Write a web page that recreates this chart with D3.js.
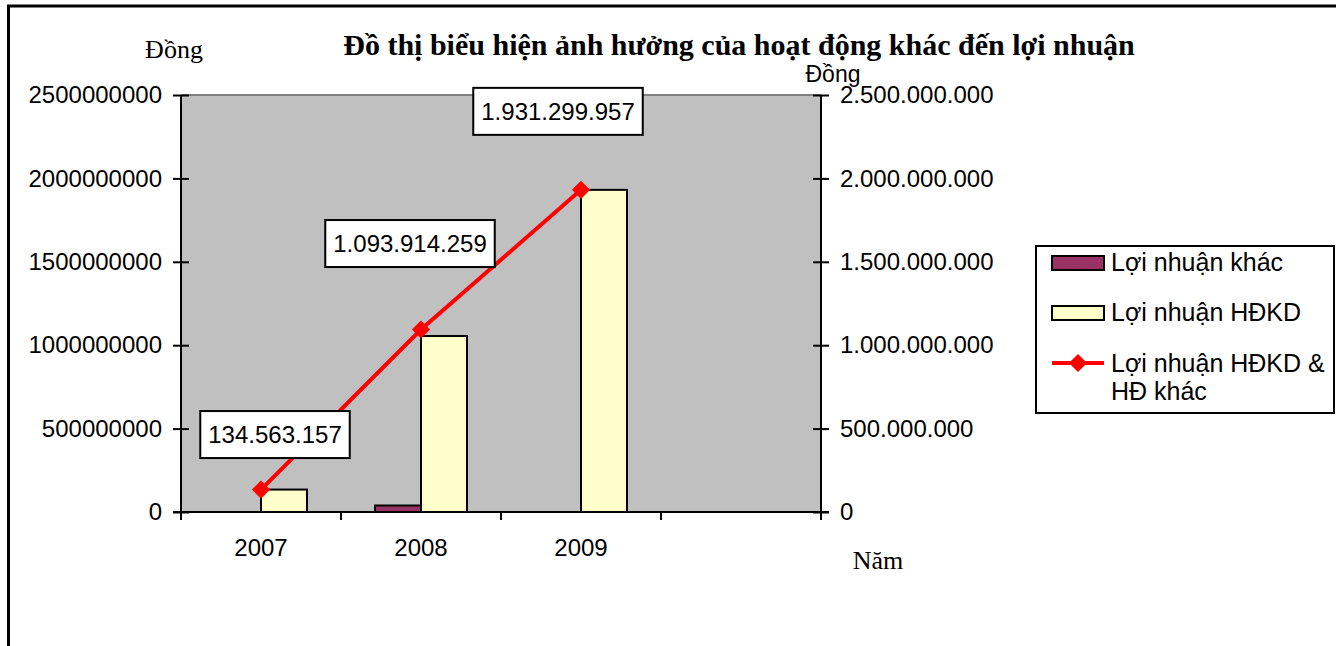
<!DOCTYPE html>
<html>
<head>
<meta charset="utf-8">
<script src="https://cdn.jsdelivr.net/npm/d3@7"></script>
<style>
  html, body { margin: 0; padding: 0; background: #fff; }
  svg { display: block; }
  .serif { font-family: "Times New Roman", "Liberation Serif", serif; }
</style>
</head>
<body>
<svg id="chart" width="1336" height="646"></svg>
<script>
// Years on the category axis (the last slot is left empty)
const years = ["2007", "2008", "2009", ""];
// Profit from other activities (Lợi nhuận khác)
const otherProfit = [0, 38914259, 0];
// Operating profit (Lợi nhuận HĐKD)
const operatingProfit = [134563157, 1055000000, 1931299957];
// Total profit: operating + other activities
const totalProfit = [134563157, 1093914259, 1931299957];
// Value-axis ticks
const valueTicks = [0, 500000000, 1000000000, 1500000000, 2000000000, 2500000000];

const seriesNames = ["Lợi nhuận khác", "Lợi nhuận HĐKD", "Lợi nhuận HĐKD & HĐ khác"];

const svg = d3.select("#chart");
const W = 1336, H = 646;
const plot = { left: 181, right: 821, top: 95, bottom: 512 };
const SANS = "Arial, 'Liberation Sans', sans-serif";

// Outer chart frame
svg.append("rect")
  .attr("x", 8.5).attr("y", 6).attr("width", W + 20).attr("height", H + 20)
  .attr("fill", "#fff").attr("stroke", "#000").attr("stroke-width", 3);

const x = d3.scaleBand().domain(years).range([plot.left, plot.right]).paddingInner(0).paddingOuter(0);
const y = d3.scaleLinear().domain([0, 2500000000]).range([plot.bottom, plot.top]);

const barW = 46;
const xInner = d3.scaleBand().domain([0, 1]).range([-barW, barW]);

// Plot area background
svg.append("rect")
  .attr("x", plot.left).attr("y", plot.top)
  .attr("width", plot.right - plot.left).attr("height", plot.bottom - plot.top)
  .attr("fill", "#c0c0c0");
svg.append("line")
  .attr("x1", plot.left).attr("x2", plot.right)
  .attr("y1", plot.top).attr("y2", plot.top)
  .attr("stroke", "#808080").attr("stroke-width", 2);

const barYears = years.slice(0, 3);

// Bars: other profit (left) and operating profit (right) in each year
const barSeries = [
  { values: otherProfit, fill: "#993366", idx: 0 },
  { values: operatingProfit, fill: "#ffffcc", idx: 1 }
];
barSeries.forEach(s => {
  svg.append("g").selectAll("rect")
    .data(barYears.map((yr, i) => ({ yr, v: s.values[i] })).filter(d => d.v > 0))
    .join("rect")
    .attr("x", d => x(d.yr) + x.bandwidth() / 2 + xInner(s.idx))
    .attr("y", d => y(d.v))
    .attr("width", xInner.bandwidth())
    .attr("height", d => y(0) - y(d.v))
    .attr("fill", s.fill)
    .attr("stroke", "#000")
    .attr("stroke-width", 2);
});

// Axes
const fmtDots = d3.formatLocale({ decimal: ",", thousands: ".", grouping: [3], currency: ["", ""] }).format(",d");

const leftAxis = svg.append("g")
  .attr("transform", `translate(${plot.left},0)`)
  .call(d3.axisLeft(y).tickValues(valueTicks).tickFormat(d3.format("d")).tickSize(8).tickPadding(11));
const rightAxis = svg.append("g")
  .attr("transform", `translate(${plot.right},0)`)
  .call(d3.axisRight(y).tickValues(valueTicks).tickFormat(fmtDots).tickSize(8).tickPadding(11));
const bottomAxis = svg.append("g")
  .attr("transform", `translate(0,${plot.bottom})`)
  .call(d3.axisBottom(x).tickValues(years).tickFormat(d => d).tickSize(0).tickPadding(27));

[leftAxis, rightAxis].forEach(g => {
  g.select(".domain").remove();
  g.selectAll(".tick line").attr("x1", -8).attr("x2", 8).attr("stroke", "#000").attr("stroke-width", 2);
  g.append("line").attr("y1", plot.top).attr("y2", plot.bottom + 8).attr("stroke", "#000").attr("stroke-width", 2);
});
bottomAxis.select(".domain").remove();
bottomAxis.append("line")
  .attr("x1", plot.left - 8).attr("x2", plot.right + 8)
  .attr("stroke", "#000").attr("stroke-width", 2);
// Category boundary ticks
bottomAxis.append("g").selectAll("line")
  .data(x.domain().map(d => x(d)).concat([plot.right]))
  .join("line")
  .attr("x1", d => d).attr("x2", d => d)
  .attr("y1", 0).attr("y2", 8)
  .attr("stroke", "#000").attr("stroke-width", 2);

svg.selectAll(".tick text")
  .attr("font-family", SANS)
  .attr("font-size", 24)
  .attr("fill", "#000");

// Total profit line with diamond markers
const cx = i => x(barYears[i]) + x.bandwidth() / 2;
const line = d3.line().x((d, i) => cx(i)).y(d => y(d));
svg.append("path")
  .datum(totalProfit)
  .attr("d", line)
  .attr("fill", "none")
  .attr("stroke", "#ff0000")
  .attr("stroke-width", 4);
const diamond = d3.symbol().type(d3.symbolDiamond2).size(210);
svg.append("g").selectAll("path")
  .data(totalProfit)
  .join("path")
  .attr("transform", (d, i) => `translate(${cx(i)},${y(d)})`)
  .attr("d", diamond)
  .attr("fill", "#ff0000");

// Value labels for the total line
const labelOffsets = [[14, -55], [-11, -86], [-23, -78.5]];
const lblG = svg.append("g").selectAll("g")
  .data(totalProfit)
  .join("g")
  .attr("transform", (d, i) => `translate(${cx(i) + labelOffsets[i][0]},${y(d) + labelOffsets[i][1]})`);
lblG.append("rect").attr("class", "box");
lblG.append("text")
  .attr("font-family", SANS)
  .attr("text-anchor", "middle")
  .attr("dy", "0.36em")
  .attr("font-size", 24)
  .text(d => fmtDots(d));
lblG.each(function() {
  const g = d3.select(this);
  const bb = g.select("text").node().getBBox();
  g.select("rect.box")
    .attr("x", bb.x - 8).attr("y", -23.5)
    .attr("width", bb.width + 16).attr("height", 47)
    .attr("fill", "#fff").attr("stroke", "#000").attr("stroke-width", 2);
});

// Titles
svg.append("text")
  .attr("class", "serif")
  .attr("x", 739).attr("y", 55)
  .attr("text-anchor", "middle")
  .attr("font-size", 30).attr("font-weight", "bold")
  .text("Đồ thị biểu hiện ảnh hưởng của hoạt động khác đến lợi nhuận");
svg.append("text")
  .attr("class", "serif")
  .attr("x", 174).attr("y", 58)
  .attr("text-anchor", "middle")
  .attr("font-size", 26)
  .text("Đồng");
svg.append("text")
  .attr("font-family", SANS)
  .attr("x", 833).attr("y", 82)
  .attr("text-anchor", "middle")
  .attr("font-size", 23)
  .text("Đồng");
svg.append("text")
  .attr("class", "serif")
  .attr("x", 878).attr("y", 569)
  .attr("text-anchor", "middle")
  .attr("font-size", 26)
  .text("Năm");

// Legend
const legend = svg.append("g");
legend.append("rect")
  .attr("x", 1036).attr("y", 246).attr("width", 298).attr("height", 167)
  .attr("fill", "#fff").attr("stroke", "#000").attr("stroke-width", 2);
const swatchFills = ["#993366", "#ffffcc"];
[0, 1].forEach(i => {
  const cy = 263 + i * 50;
  legend.append("rect")
    .attr("x", 1052).attr("y", cy - 7).attr("width", 52).attr("height", 14)
    .attr("fill", swatchFills[i]).attr("stroke", "#000").attr("stroke-width", 2);
  legend.append("text")
    .attr("font-family", SANS)
    .attr("x", 1111).attr("y", cy + 8)
    .attr("font-size", 25)
    .text(seriesNames[i]);
});
legend.append("line")
  .attr("x1", 1052).attr("x2", 1104).attr("y1", 363).attr("y2", 363)
  .attr("stroke", "#ff0000").attr("stroke-width", 4);
legend.append("path")
  .attr("transform", "translate(1078,363)")
  .attr("d", diamond)
  .attr("fill", "#ff0000");
const lt = legend.append("text")
  .attr("font-family", SANS)
  .attr("x", 1111).attr("y", 372)
  .attr("font-size", 25);
lt.append("tspan").attr("x", 1111).text("Lợi nhuận HĐKD &");
lt.append("tspan").attr("x", 1111).attr("dy", 28).text("HĐ khác");
</script>
</body>
</html>
